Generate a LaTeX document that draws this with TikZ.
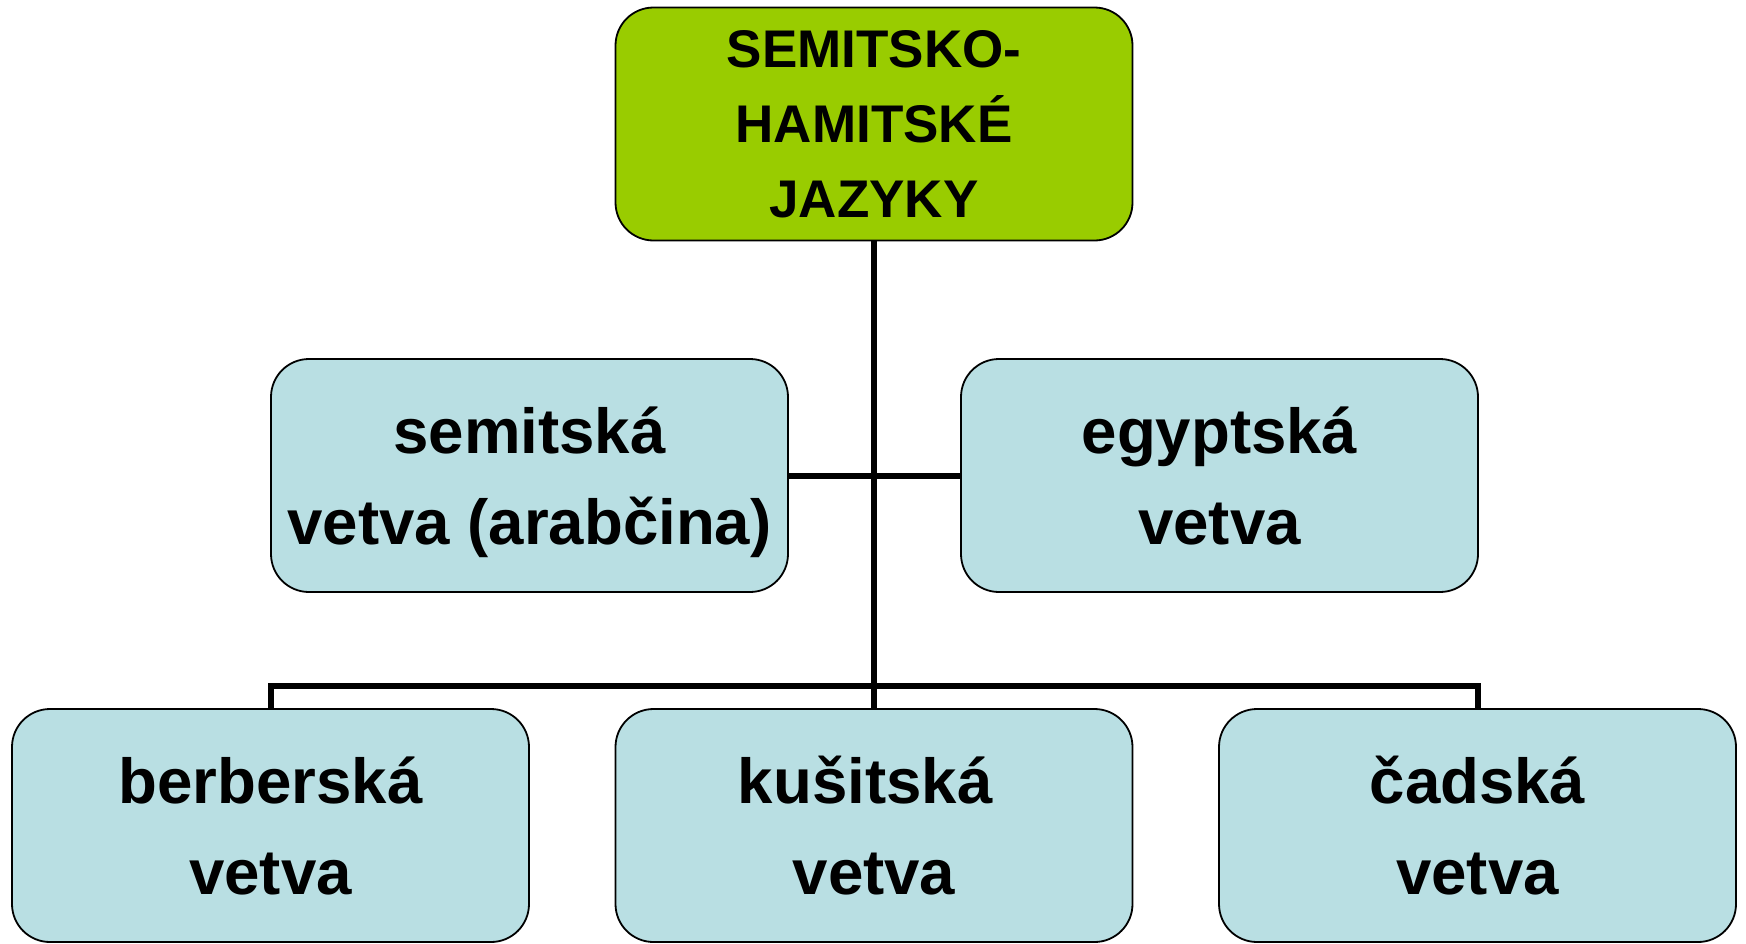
\documentclass[tikz,border=0pt]{standalone}
\usepackage{fontspec}
\setmainfont{Liberation Sans}
\definecolor{topgreen}{RGB}{153,204,0}
\definecolor{boxblue}{RGB}{185,223,227}
\tikzset{
  box/.style={draw=black, line width=1.8pt, rounded corners=38pt, fill=boxblue,
    minimum width=517pt, minimum height=233pt, inner sep=0pt, align=center,
    text depth=0pt, font=\bfseries\fontsize{63.6}{91}\selectfont},
  topbox/.style={box, fill=topgreen, font=\bfseries\fontsize{53}{75}\selectfont},
  conn/.style={line width=6pt}
}
\begin{document}
\begin{tikzpicture}[x=1pt,y=1pt]
\useasboundingbox (0,0) rectangle (1746,-943);
\coordinate (bus) at (874,-686);
\node[topbox] (top) at (874,-124) {SEMITSKO-\\HAMITSKÉ\\JAZYKY};
\node[box] (sem) at (529.5,-475.5) {semitská\\vetva (arabčina)};
\node[box] (egy) at (1219.5,-475.5) {egyptská\\vetva};
\node[box] (ber) at (270.5,-825.5) {berberská\\vetva};
\node[box] (kus) at (874,-825.5) {kušitská\hspace*{17.7pt}\\vetva};
\node[box] (cad) at (1477.5,-825.5) {čadská\\vetva};
\draw[conn] (top.south) -- (kus.north);
\draw[conn] (sem.east) -- (egy.west);
\draw[conn] (ber.north) -- (ber.north |- bus) -- (cad.north |- bus) -- (cad.north);
\end{tikzpicture}
\end{document}
